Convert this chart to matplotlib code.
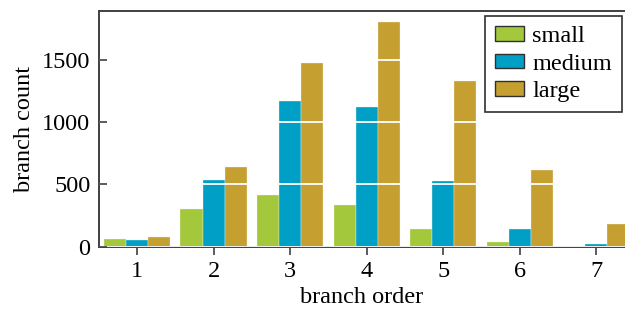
import matplotlib
matplotlib.use('Agg')
import matplotlib.pyplot as plt
import numpy as np

plt.rcParams['font.family'] = ['Liberation Serif', 'DejaVu Serif']

# --- data ---
orders = [1, 2, 3, 4, 5, 6, 7]
small = [66, 304, 416, 336, 146, 40, 10]
medium = [53, 539, 1171, 1118, 531, 141, 24]
large = [82, 637, 1475, 1798, 1331, 619, 187]
series_names = ['small', 'medium', 'large']

colors = ['#a3c83c', '#00a0c6', '#c59f30']
bar_w = 0.288
fs = 17.5

fig = plt.figure(figsize=(6.25, 3.11), dpi=100)
ax = fig.add_axes([0.158, 0.206, 0.842, 0.759])

x = np.array(orders, dtype=float)
for i, (vals, name) in enumerate(zip([small, medium, large], series_names)):
    ax.bar(x + (i - 1) * bar_w, vals, width=bar_w, color=colors[i],
           edgecolor='#f4f4e8', linewidth=0.25, label=name, zorder=2)

# white grid lines on top of the bars
ax.set_axisbelow(False)
ax.yaxis.grid(True, color='white', linewidth=1.3, zorder=3)

ax.set_xlim(0.5, 7.376)
ax.set_ylim(0, 1890)
ax.set_xticks(orders)
ax.set_yticks([0, 500, 1000, 1500])

for s in ['left', 'bottom', 'top']:
    ax.spines[s].set_color('#404040')
    ax.spines[s].set_linewidth(1.4)
ax.spines['right'].set_visible(False)

ax.tick_params(axis='x', direction='out', length=6, width=1.2,
               color='#404040', labelsize=fs, pad=4)
ax.tick_params(axis='y', direction='in', length=6, width=1.2,
               color='#404040', labelsize=fs, pad=6)

ax.set_xlabel('branch order', fontsize=fs, labelpad=4)
ax.set_ylabel('branch count', fontsize=fs, labelpad=5)

leg = ax.legend(loc='upper right', bbox_to_anchor=(0.995, 0.978),
                borderaxespad=0, fontsize=fs, fancybox=False, framealpha=1,
                edgecolor='#303030', handlelength=1.2, handleheight=0.55,
                handletextpad=0.35, labelspacing=0.26, borderpad=0.42)
leg.get_frame().set_linewidth(1.2)
for h in leg.legend_handles:
    h.set_edgecolor('#303030')
    h.set_linewidth(1.0)

fig.savefig('out.png', dpi=100)
